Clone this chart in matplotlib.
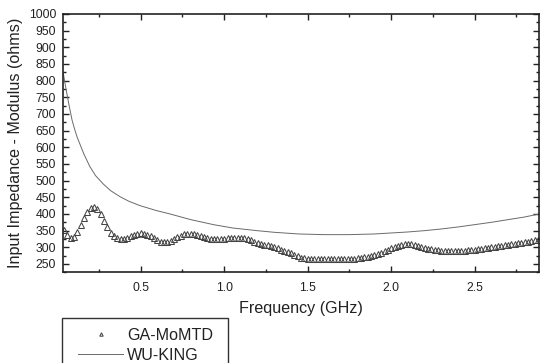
import numpy as np
import matplotlib
matplotlib.use("Agg")
import matplotlib.pyplot as plt
from matplotlib.ticker import MultipleLocator
from matplotlib.patches import Rectangle

plt.rcParams['font.family'] = ['Liberation Sans', 'DejaVu Sans']

# GA-MoMTD samples (every 0.02 GHz starting at 0.04 GHz)
ga_start = 0.04
ga_step = 0.02
ga_values = [
    352, 337, 327, 331, 346, 366, 388, 406, 418, 421,
    414, 399, 380, 360, 344, 333, 327, 324, 325, 329,
    334, 338, 341, 342, 341, 338, 333, 327, 321, 317,
    315, 315, 319, 324, 330, 335, 339, 341, 341, 340,
    338, 335, 331, 328, 326, 325, 324, 325, 326, 327,
    328, 329, 329, 329, 328, 325, 321, 317, 314, 311,
    308, 306, 303, 300, 297, 293, 290, 286, 282, 277,
    273, 269, 267, 265, 264, 264, 265, 265, 265, 265,
    265, 265, 265, 265, 265, 265, 266, 266, 267, 268,
    270, 272, 274, 277, 280, 284, 288, 293, 297, 301,
    305, 308, 310, 311, 310, 308, 305, 302, 299, 296,
    294, 292, 291, 290, 289, 289, 289, 289, 289, 290,
    290, 291, 292, 293, 294, 295, 297, 298, 300, 301,
    303, 304, 306, 307, 309, 310, 312, 314, 315, 317,
    319, 321, 323,
]
ga_freq = ga_start + ga_step * np.arange(len(ga_values))

# WU-KING curve
wk_freq = [0.036, 0.046, 0.056, 0.066, 0.076, 0.09, 0.106, 0.12, 0.136, 0.16,
           0.196, 0.23, 0.276, 0.32, 0.376, 0.43, 0.496, 0.596, 0.676, 0.8,
           0.936, 1.05, 1.196, 1.3, 1.446, 1.6, 1.75, 1.9, 2.0, 2.1,
           2.2, 2.3, 2.4, 2.5, 2.6, 2.7, 2.8, 2.885]
wk_values = [825, 795, 767, 740, 714, 680, 652, 630, 610, 580,
             542, 515, 490, 470, 452, 438, 425, 410, 400, 383,
             368, 358, 350, 345, 340, 338, 338, 340, 343, 346,
             350, 355, 361, 368, 375, 383, 391, 400]

W, H = 540, 363
fig = plt.figure(figsize=(W / 100, H / 100), dpi=100)
ax = fig.add_axes([63 / W, 1 - 272.3 / H, (539 - 63) / W, (272.3 - 14) / H])

ax.plot(ga_freq, ga_values, linestyle='none', marker='^', markersize=4.1,
        markerfacecolor='none', markeredgecolor='#454545', markeredgewidth=0.75,
        label='GA-MoMTD')
ax.plot(wk_freq, wk_values, color='#6a6a6a', linewidth=0.7, label='WU-KING')

ax.set_xlim(0.035, 2.885)
ax.set_ylim(225, 1000)
ax.xaxis.set_minor_locator(MultipleLocator(0.25))
ax.yaxis.set_minor_locator(MultipleLocator(25))
ax.set_xticks([0.5, 1.0, 1.5, 2.0, 2.5])
ax.set_xticklabels(['0.5', '1.0', '1.5', '2.0', '2.5'])
ax.set_yticks(np.arange(250, 1001, 50))

ax.tick_params(which='both', direction='in', top=True, right=True,
               colors='#222222', labelcolor='#222222')
ax.tick_params(which='major', length=4.5, width=1.0, labelsize=8.8)
ax.tick_params(which='minor', length=2.5, width=1.0)
ax.tick_params(axis='y', which='major', pad=5)
ax.tick_params(axis='x', which='major', pad=7)
for s in ax.spines.values():
    s.set_linewidth(1.2)
    s.set_color('#222222')

ax.set_xlabel('Frequency (GHz)', fontsize=11.6, color='#222222', labelpad=5)
ax.set_ylabel('Input Impedance - Modulus (ohms)', fontsize=11.6, color='#222222', labelpad=4)

leg = fig.legend(loc='upper left', bbox_to_anchor=(78 / W, 1 - 328 / H),
                 frameon=False, fontsize=11.6, numpoints=1, handlelength=2.8,
                 handletextpad=0.25, borderaxespad=0, borderpad=0,
                 labelspacing=0.3, markerscale=0.6)
for t in leg.get_texts():
    t.set_color('#222222')
fig.patches.append(Rectangle((62 / W, -0.2), (228 - 62) / W, (1 - 318 / H) + 0.2,
                             transform=fig.transFigure, fill=False,
                             edgecolor='#333333', linewidth=1.0))

fig.savefig('out.png', dpi=100, facecolor='white')
